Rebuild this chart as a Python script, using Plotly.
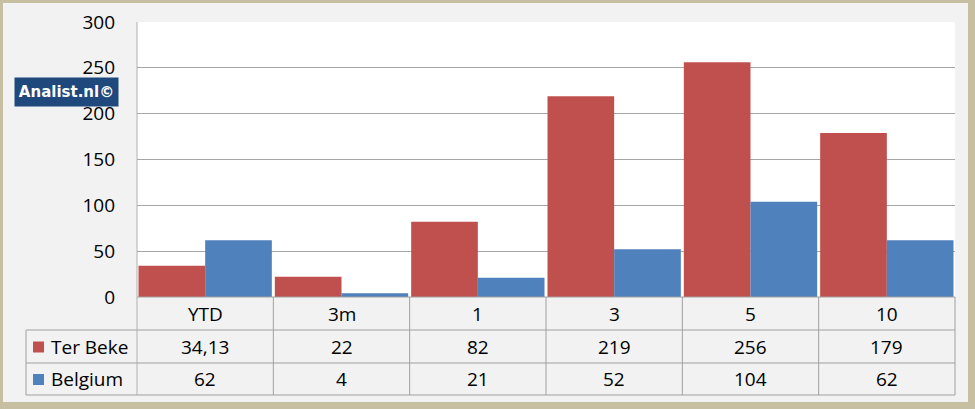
import plotly.graph_objects as go

categories = ["YTD", "3m", "1", "3", "5", "10"]
series_names = ["Ter Beke", "Belgium"]
ter_beke = [34.13, 22, 82, 219, 256, 179]
belgium = [62, 4, 21, 52, 104, 62]
ter_beke_labels = ["34,13", "22", "82", "219", "256", "179"]
belgium_labels = ["62", "4", "21", "52", "104", "62"]
y_ticks = [0, 50, 100, 150, 200, 250, 300]

colors = ["#c0504d", "#4f81bd"]
W, H = 975, 409
ML, MR, MT, MB = 137, 20, 22, 112
PW, PH = W - ML - MR, H - MT - MB

def px(x):
    return (x - ML) / PW

def py(y):
    return (H - MB - y) / PH

FONT = "Open Sans"
FS = 19
fig = go.Figure()
for name, vals, col in zip(series_names, [ter_beke, belgium], colors):
    fig.add_trace(go.Bar(x=categories, y=vals, name=name, marker=dict(color=col, line=dict(width=0)),
                         hoverinfo="x+y+name"))

shapes = []
annotations = []
line_col = "#a0a0a0"
frame = "#c6bfa2"
for x0, y0, x1, y1 in [(0, 0, 3, H), (0, 0, W, 3), (W - 7, 0, W, H), (0, H - 7, W, H)]:
    shapes.append(dict(type="rect", xref="paper", yref="paper", x0=px(x0), x1=px(x1), y0=py(y0), y1=py(y1),
                       fillcolor=frame, line=dict(width=0), layer="above"))

row_y = [297, 330, 363, 395]
shapes.append(dict(type="line", xref="paper", yref="paper", x0=0, x1=1, y0=py(row_y[0]), y1=py(row_y[0]),
                   line=dict(color=line_col, width=1)))
for ry in row_y[1:]:
    shapes.append(dict(type="line", xref="paper", yref="paper", x0=px(26), x1=1, y0=py(ry), y1=py(ry),
                       line=dict(color=line_col, width=1)))
shapes.append(dict(type="line", xref="paper", yref="paper", x0=px(26), x1=px(26), y0=py(row_y[1]), y1=py(row_y[3]),
                   line=dict(color=line_col, width=1)))
shapes.append(dict(type="line", xref="paper", yref="paper", x0=0, x1=0, y0=1, y1=py(row_y[3]),
                   line=dict(color="#b0b0b0", width=1)))
for i in range(1, len(categories)):
    shapes.append(dict(type="line", xref="x", yref="paper", x0=i - 0.5, x1=i - 0.5, y0=py(row_y[0]), y1=py(row_y[3]),
                       line=dict(color=line_col, width=1)))
shapes.append(dict(type="line", xref="paper", yref="paper", x0=1, x1=1, y0=py(row_y[0]), y1=py(row_y[3]),
                   line=dict(color=line_col, width=1)))

for i, c in enumerate(categories):
    annotations.append(dict(x=i, xref="x", y=py((row_y[0] + row_y[1]) / 2), yref="paper", text=c,
                            showarrow=False, font=dict(family=FONT, size=FS, color="black"),
                            xanchor="center", yanchor="middle"))
for r, (name, labels, col) in enumerate(zip(series_names, [ter_beke_labels, belgium_labels], colors)):
    yc = (row_y[r + 1] + row_y[r + 2]) / 2
    for i, t in enumerate(labels):
        annotations.append(dict(x=i, xref="x", y=py(yc), yref="paper", text=t, showarrow=False,
                                font=dict(family=FONT, size=FS, color="black"), xanchor="center", yanchor="middle"))
    shapes.append(dict(type="rect", xref="paper", yref="paper", x0=px(33), x1=px(44), y0=py(yc - 5), y1=py(yc + 6),
                       fillcolor=col, line=dict(width=0)))
    annotations.append(dict(x=px(49), xref="paper", y=py(yc), yref="paper", text=name, showarrow=False,
                            font=dict(family=FONT, size=FS, color="black"), xanchor="left", yanchor="middle"))

annotations.append(dict(x=px(14), xref="paper", y=py(92), yref="paper", text="<b>Analist.nl©</b>", showarrow=False,
                        font=dict(family="DejaVu Sans", size=15, color="white"), bgcolor="#1f497d",
                        xanchor="left", yanchor="middle", width=103, height=28, borderpad=0, align="center"))

fig.update_layout(
    width=W, height=H,
    margin=dict(l=ML, r=MR, t=MT, b=MB, autoexpand=False),
    paper_bgcolor="#f2f2f2", plot_bgcolor="white",
    barmode="group", bargap=0.022, bargroupgap=0,
    showlegend=False,
    shapes=shapes, annotations=annotations,
    xaxis=dict(type="category", range=[-0.5, len(categories) - 0.5], showticklabels=False, showgrid=False,
               zeroline=False, showline=False, fixedrange=True),
    yaxis=dict(range=[0, 300], tickvals=y_ticks, showgrid=True, gridcolor="#a6a6a6", gridwidth=1,
               zeroline=False, showline=False, ticks="", ticklabelstandoff=21, automargin=False,
               tickfont=dict(family=FONT, size=FS, color="black"), fixedrange=True),
)

fig.write_html("out.html", config={"displayModeBar": False},
               post_script="document.body.style.margin='0';document.body.style.padding='0';document.body.style.overflow='hidden';")
